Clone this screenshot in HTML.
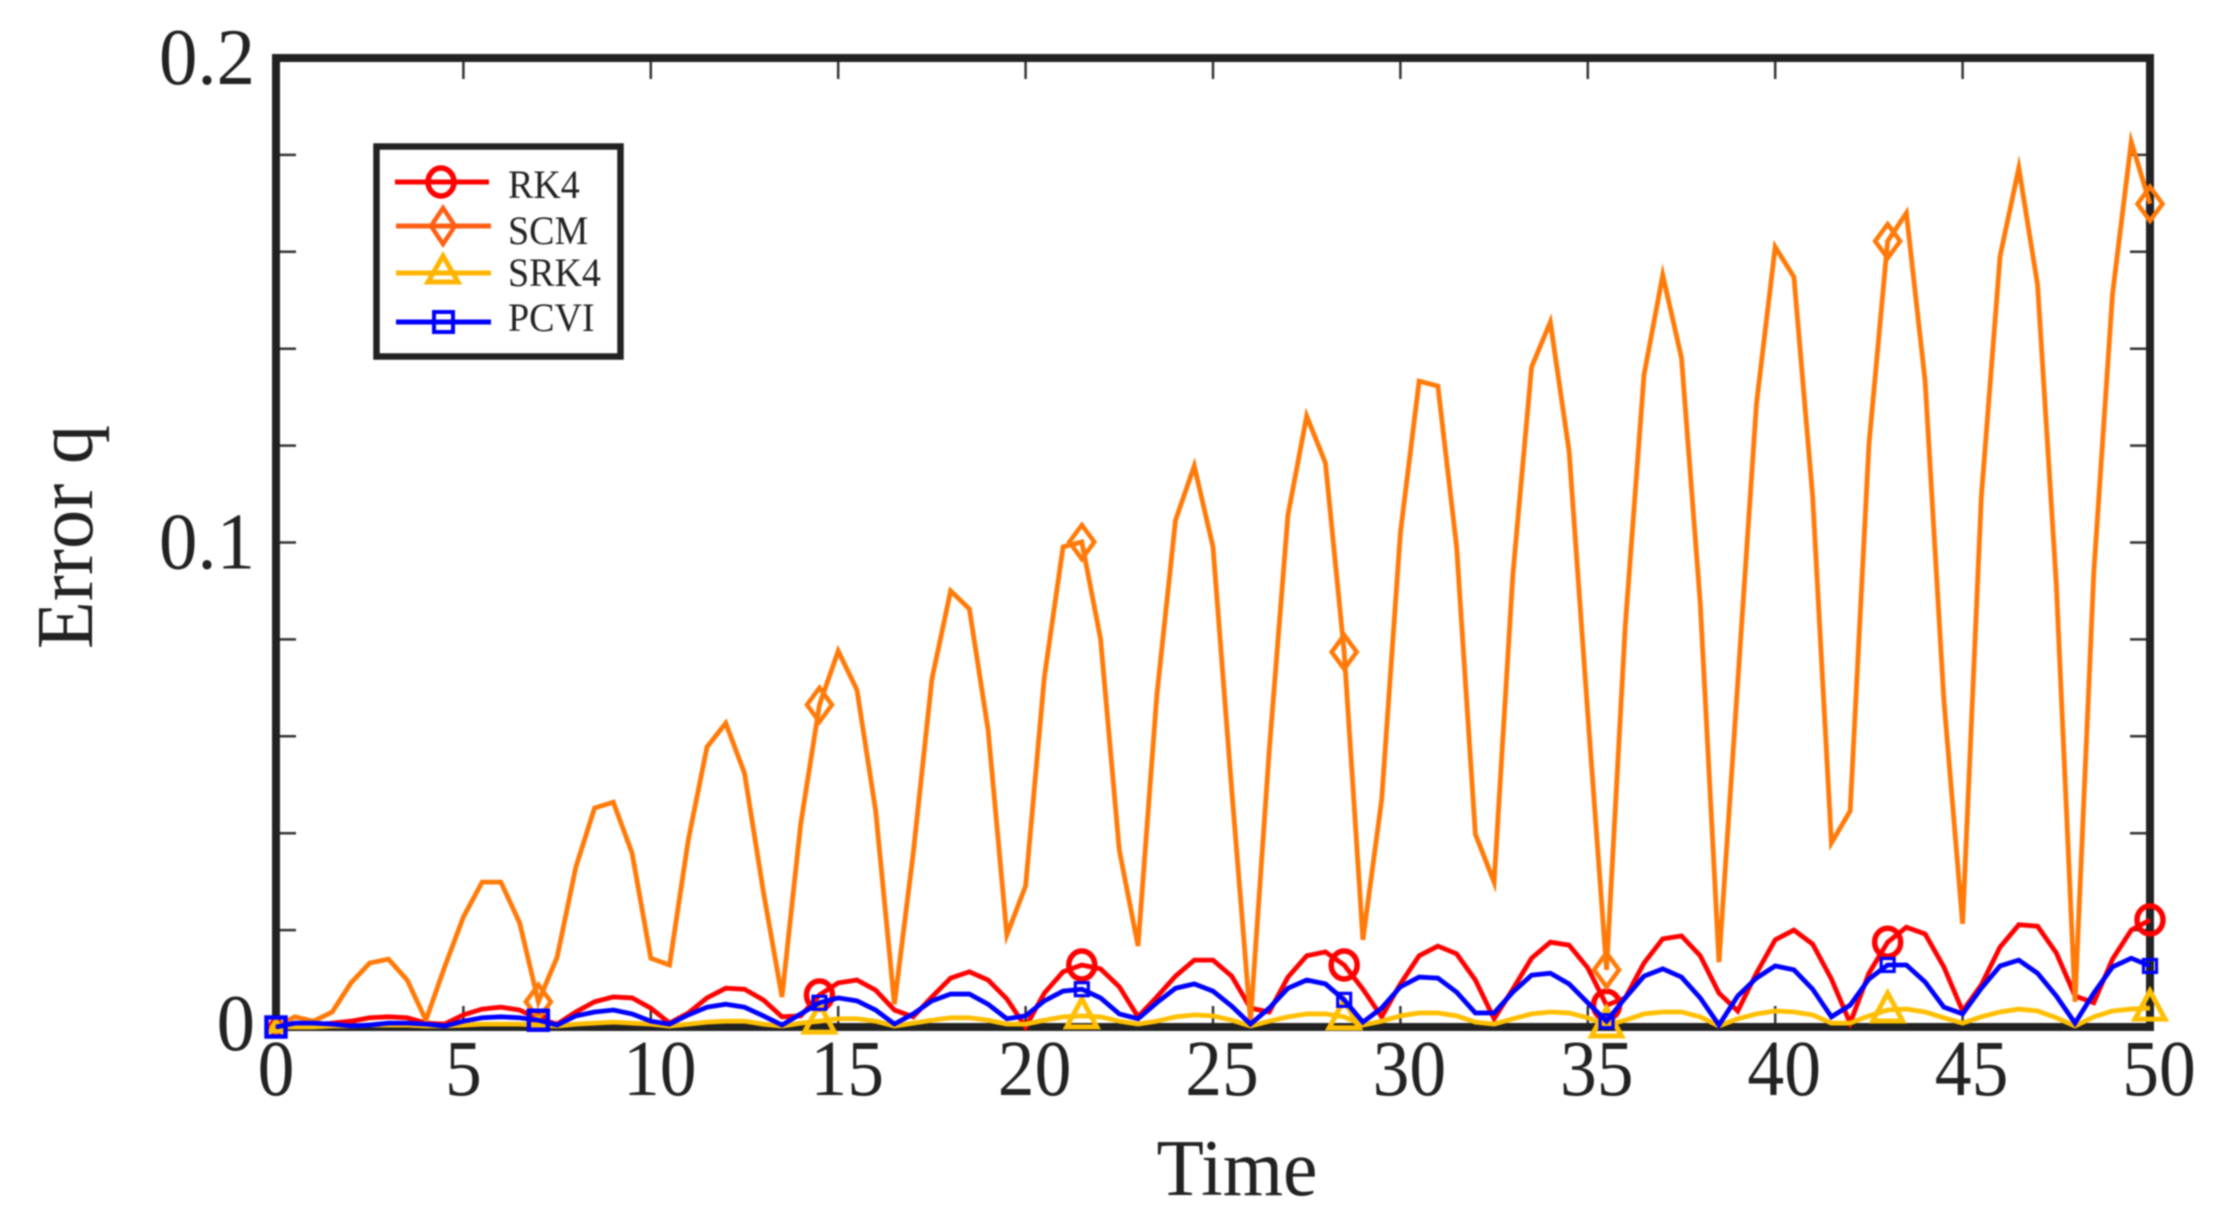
<!DOCTYPE html>
<html lang="en">
<head>
<meta charset="utf-8">
<title>Error q over Time</title>
<style>
html,body{margin:0;padding:0;background:#fff;width:2217px;height:1225px;overflow:hidden}
svg{display:block;filter:blur(0.7px)}
text{font-family:"Liberation Serif",serif;fill:#222}
</style>
</head>
<body>
<svg id="chart" xmlns="http://www.w3.org/2000/svg" width="2217" height="1225" viewBox="0 0 2217 1225">
  <rect x="0" y="0" width="2217" height="1225" fill="#fff"/>
  <g id="axes"></g>
  <g id="series"></g>
  <g>
    <rect x="376.5" y="146.5" width="244" height="210" fill="#fff" stroke="#222" stroke-width="6.5"/>
    <g>
      <line x1="395" y1="182" x2="489" y2="182" stroke="#ff0000" stroke-width="5"/>
      <ellipse cx="441" cy="182" rx="13" ry="14" fill="none" stroke="#ff0000" stroke-width="5.5"/>
      <text transform="translate(508,198) scale(.95,1)" font-size="40">RK4</text>
    </g>
    <g>
      <line x1="396" y1="226" x2="491" y2="226" stroke="#ff5f14" stroke-width="5"/>
      <polygon points="443,208 455,226 443,244 431,226" fill="none" stroke="#ff5f14" stroke-width="4.5"/>
      <text transform="translate(508,244) scale(.95,1)" font-size="40">SCM</text>
    </g>
    <g>
      <line x1="396" y1="273" x2="491" y2="273" stroke="#ffb400" stroke-width="5"/>
      <polygon points="443,256 458,282 428,282" fill="none" stroke="#ffb400" stroke-width="5"/>
      <text transform="translate(508,286) scale(.95,1)" font-size="40">SRK4</text>
    </g>
    <g>
      <line x1="396" y1="322" x2="491" y2="322" stroke="#0000ff" stroke-width="5"/>
      <rect x="434" y="312" width="19" height="20" fill="none" stroke="#0000ff" stroke-width="4"/>
      <text transform="translate(508,331) scale(.95,1)" font-size="40">PCVI</text>
    </g>
  </g>
</svg>
<script>
const timeStep = 0.5;
const markerIndices = [0, 14, 29, 43, 57, 71, 86, 100];
const xTickValues = [0, 5, 10, 15, 20, 25, 30, 35, 40, 45, 50];
const xTickLabels = ['0', '5', '10', '15', '20', '25', '30', '35', '40', '45', '50'];
const yTickValues = [0, 0.02, 0.04, 0.06, 0.08, 0.1, 0.12, 0.14, 0.16, 0.18, 0.2];
const yLabelValues = [0, 0.1, 0.2];
const yLabelTexts = ['0', '0.1', '0.2'];
const xAxisTitle = 'Time';
const yAxisTitle = 'Error q';

const rk4Values = [
0,.0002,.0004,.0008,.0012,.0019,.0021,.0019,.0008,.0006,
.0025,.0037,.0041,.0035,.0017,.0006,.0031,.0052,.0062,.0060,
.0039,.0008,.0029,.0060,.0080,.0078,.0056,.0021,.0023,.0066,
.0091,.0097,.0076,.0035,.0021,.0062,.0101,.0114,.0097,.0058,
0,.0070,.0114,.0128,.0120,.0083,.0021,.0062,.0105,.0138,
.0138,.0105,.0039,.0031,.0103,.0147,.0155,.0128,.0078,.0021,
.0089,.0147,.0167,.0151,.0097,.0017,.0078,.0142,.0175,.0169,
.0122,.0045,.0060,.0132,.0182,.0188,.0147,.0070,.0033,.0111,
.0180,.0200,.0171,.0099,.0008,.0111,.0175,.0206,.0192,.0124,
.0033,.0087,.0165,.0211,.0208,.0153,.0064,.0050,.0140,.0200,
.0221];

const scmValues = [
0,.0021,.0012,.0031,.0091,.0132,.0140,.0097,.0014,.0124,
.0227,.0299,.0299,.0215,.0052,.0144,.0330,.0452,.0464,.0359,
.0142,.0128,.0386,.0578,.0627,.0524,.0281,.0062,.0419,.0665,
.0776,.0696,.0446,.0047,.0357,.0718,.0900,.0863,.0613,.0190,
.0291,.0722,.0991,.1001,.0801,.0365,.0167,.0683,.1046,.1158,
.0991,.0489,.0012,.0570,.1057,.1261,.1164,.0774,.0180,.0469,
.1020,.1333,.1323,.0991,.0398,.0299,.0933,.1362,.1455,.1189,
.0646,.0118,.0828,.1346,.1552,.1381,.0875,.0134,.0710,.1286,
.1610,.1548,.1094,.0380,.0446,.1201,.1622,.1680,.1333,.0675,
.0213,.1094,.1591,.1773,.1532,.0914,.0052,.0937,.1513,.1827,
.1699];

const srk4Values = [
0,0,0,.0002,.0002,.0004,.0004,.0004,.0002,.0002,
.0004,.0006,.0006,.0006,.0004,.0002,.0006,.0008,.0010,.0008,
.0006,.0002,.0006,.0010,.0012,.0012,.0006,.0002,.0008,.0012,
.0017,.0017,.0012,.0002,.0008,.0014,.0019,.0019,.0014,.0006,
.0006,.0014,.0021,.0023,.0021,.0012,.0006,.0012,.0021,.0025,
.0023,.0014,.0002,.0012,.0021,.0027,.0027,.0021,.0004,.0012,
.0023,.0029,.0029,.0023,.0010,.0006,.0017,.0027,.0031,.0029,
.0019,.0004,.0014,.0027,.0031,.0031,.0021,.0002,.0017,.0027,
.0033,.0031,.0025,.0008,.0008,.0023,.0035,.0037,.0031,.0019,
.0008,.0021,.0031,.0037,.0033,.0019,.0002,.0021,.0033,.0037,
.0039];

const pcviValues = [
0,.0008,.0008,.0006,.0002,.0004,.0008,.0008,.0006,.0002,
.0012,.0019,.0021,.0019,.0014,.0004,.0023,.0031,.0035,.0027,
.0012,.0006,.0025,.0041,.0047,.0041,.0023,.0004,.0027,.0050,
.0060,.0054,.0035,.0006,.0027,.0054,.0068,.0068,.0047,.0017,
.0023,.0054,.0074,.0078,.0060,.0027,.0017,.0050,.0080,.0089,
.0074,.0043,.0006,.0039,.0080,.0097,.0089,.0056,.0010,.0039,
.0083,.0103,.0101,.0072,.0029,.0029,.0072,.0107,.0111,.0089,
.0050,.0012,.0060,.0105,.0120,.0103,.0060,.0004,.0064,.0101,
.0126,.0118,.0078,.0021,.0045,.0099,.0128,.0128,.0093,.0041,
.0027,.0080,.0126,.0138,.0111,.0064,.0008,.0070,.0124,.0142,
.0126];

const NS = 'http://www.w3.org/2000/svg';
const plotLeft = 276, plotRight = 2150, plotTop = 58, plotBottom = 1027;
const xMax = 50, yMax = 0.2;
function xScale(t) { return plotLeft + (t / xMax) * (plotRight - plotLeft); }
function yScale(v) { return plotBottom - (v / yMax) * (plotBottom - plotTop); }

const axes = document.getElementById('axes');
const seriesLayer = document.getElementById('series');

function make(parent, tag, props, content) {
  const el = document.createElementNS(NS, tag);
  for (const k in props) el.setAttribute(k, props[k]);
  if (content !== undefined) el.textContent = content;
  parent.appendChild(el);
  return el;
}

// x ticks, top and bottom
xTickValues.forEach(function (t, i) {
  const x = xScale(t);
  if (t > 0 && t < xMax) {
    const top = make(axes, 'line', {x1: x, x2: x, y1: plotTop, y2: plotTop + 21, stroke: '#333', 'stroke-width': 2.5});
    
    
    const bottom = make(axes, 'line', {x1: x, x2: x, y1: plotBottom, y2: plotBottom - 21, stroke: '#333', 'stroke-width': 2.5});
    
    
  }
  const label = xTickLabels[i];
  const dx = label.length > 1 ? 9 : 0;
  const tx = make(axes, 'text', {transform: 'translate(' + (x + dx) + ',1095) scale(.92,1)', 'font-size': 80, 'text-anchor': 'middle'}, label);
  
  
});

// y ticks, left and right
yTickValues.forEach(function (v) {
  const y = yScale(v);
  if (v > 0 && v < yMax) {
    const left = make(axes, 'line', {x1: plotLeft, x2: plotLeft + 20, y1: y, y2: y, stroke: '#333', 'stroke-width': 2.5});
    
    
    const right = make(axes, 'line', {x1: plotRight, x2: plotRight - 20, y1: y, y2: y, stroke: '#333', 'stroke-width': 2.5});
    
    
  }
});
yLabelValues.forEach(function (v, i) {
  const base = yScale(v) + (v === 0 ? 23 : 26);
  const ty = make(axes, 'text', {transform: 'translate(255,' + base + ') scale(.96,1)', 'font-size': 80, 'text-anchor': 'end'}, yLabelTexts[i]);
  
  
});

const frame = make(axes, 'rect', {x: plotLeft, y: plotTop, width: plotRight - plotLeft, height: plotBottom - plotTop, fill: 'none', stroke: '#222', 'stroke-width': 8});



const xTitle = make(axes, 'text', {transform: 'translate(1237,1195) scale(.97,1)', 'font-size': 80, 'text-anchor': 'middle'}, xAxisTitle);


const yTitle = make(axes, 'text', {transform: 'translate(92,537) rotate(-90) scale(.98,1)', 'font-size': 80, 'text-anchor': 'middle'}, yAxisTitle);



function drawLine(values, color, name) {
  const pts = values.map(function (v, i) { return xScale(i * timeStep).toFixed(2) + ',' + yScale(v).toFixed(2); }).join(' ');
  const line = make(seriesLayer, 'polyline', {points: pts, fill: 'none', stroke: color, 'stroke-width': 4.8, 'stroke-linejoin': 'miter', 'stroke-miterlimit': 6});
  
  
}

function drawMarker(kind, i, value, color, name) {
  const x = xScale(i * timeStep), y = yScale(value);
  let el;
  if (kind === 'circle') {
    // circles at the first two marker positions are small enough to sit inside the square
    const r = i <= 14 ? 5 : 13;
    el = make(seriesLayer, 'ellipse', {cx: x, cy: y, rx: r, ry: r + 1, fill: 'none', stroke: color, 'stroke-width': 5.5});
  } else if (kind === 'diamond') {
    const k = i === 0 ? 0.35 : 1;
    el = make(seriesLayer, 'polygon', {points: [x, y - 17 * k, x + 12.5 * k, y, x, y + 17 * k, x - 12.5 * k, y].join(' '), fill: 'none', stroke: color, 'stroke-width': 4.5});
  } else if (kind === 'triangle') {
    const k = i <= 14 ? 0.35 : 1;
    el = make(seriesLayer, 'polygon', {points: [x, y - 17 * k, x + 15 * k, y + 11 * k, x - 15 * k, y + 11 * k].join(' '), fill: 'none', stroke: color, 'stroke-width': 5});
  } else {
    const half = i <= 14 ? 9.5 : 6.5;
    el = make(seriesLayer, 'rect', {x: x - half, y: y - half, width: 2 * half, height: 2 * half, fill: 'none', stroke: color, 'stroke-width': i <= 14 ? 4.5 : 3.2});
  }
  
  
}

function drawSeries(values, color, kind, name) {
  drawLine(values, color, name + '-line');
  markerIndices.forEach(function (i) {
    drawMarker(kind, i, values[i], color, name + '-marker');
  });
}

drawSeries(rk4Values, '#ff0000', 'circle', 'rk4');
drawSeries(scmValues, '#ff7a08', 'diamond', 'scm');
drawSeries(srk4Values, '#ffbf00', 'triangle', 'srk4');
drawSeries(pcviValues, '#0000ff', 'square', 'pcvi');
</script>
</body>
</html>
